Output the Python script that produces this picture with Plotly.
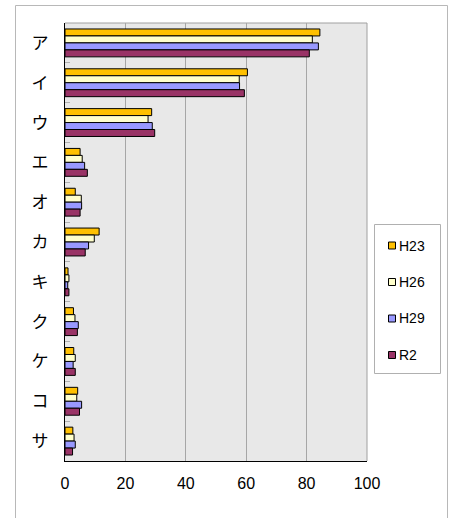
import plotly.graph_objects as go

categories = ["ア", "イ", "ウ", "エ", "オ", "カ", "キ", "ク", "ケ", "コ", "サ"]
series_names = ["H23", "H26", "H29", "R2"]
h23 = [84.4, 60.4, 28.7, 5.0, 3.4, 11.3, 1.0, 2.8, 2.9, 4.2, 2.6]
h26 = [81.9, 57.7, 27.5, 5.7, 5.4, 9.7, 1.3, 3.3, 3.4, 3.9, 3.0]
h29 = [83.9, 57.8, 28.9, 6.5, 5.5, 7.8, 0.9, 4.4, 2.7, 5.5, 3.4]
r2 = [80.9, 59.4, 29.7, 7.4, 5.0, 6.7, 1.3, 4.1, 3.4, 4.8, 2.5]
x_ticks = [0, 20, 40, 60, 80, 100]

colors = ["#FFC000", "#FFFFCC", "#9999FF", "#993366"]
values = [h23, h26, h29, r2]

fig = go.Figure()
for name, vals, col in zip(series_names, values, colors):
    fig.add_trace(go.Bar(
        y=categories, x=vals, name=name, orientation="h",
        marker=dict(color=col, line=dict(color="black", width=1)),
        showlegend=False,
    ))

W, H = 449, 518
# plot area in screen pixels: x 65..367, y 23..461
L, T = 65, 23
R = W - 367
B = H - 461
pw, ph = W - L - R, H - T - B

def px_x(x):
    return (x - L) / pw

def px_y(y):
    return (H - B - y) / ph

def hline(x0, x1, y, color):
    return dict(type="line", xref="paper", yref="paper", x0=px_x(x0), x1=px_x(x1),
                y0=px_y(y), y1=px_y(y), line=dict(color=color, width=1), layer="above")

def vline(x, y0, y1, color):
    return dict(type="line", xref="paper", yref="paper", x0=px_x(x), x1=px_x(x),
                y0=px_y(y0), y1=px_y(y1), line=dict(color=color, width=1), layer="above")

BORDER = "#B8B8B8"
shapes = [
    dict(type="line", xref="paper", yref="paper", x0=0, x1=1, y0=1, y1=1,
         line=dict(color="#A0A0A0", width=1), layer="below"),
    dict(type="line", xref="paper", yref="paper", x0=1, x1=1, y0=0, y1=1,
         line=dict(color="#A0A0A0", width=1), layer="below"),
    # outer chart border
    hline(15.5, 447.5, 5.5, BORDER),
    vline(15.5, 5.5, 520, BORDER),
    vline(447.5, 5.5, 520, BORDER),
    # legend box
    dict(type="rect", xref="paper", yref="paper",
         x0=px_x(374.5), x1=px_x(440.5), y0=px_y(373.5), y1=px_y(224.5),
         line=dict(color="#B0B0B0", width=1), fillcolor="white", layer="below"),
]
annotations = []
leg_y = [245.5, 282, 318.5, 355]
for name, col, cy in zip(series_names, colors, leg_y):
    shapes.append(dict(type="rect", xref="paper", yref="paper",
                       x0=px_x(388.5), x1=px_x(395.5), y0=px_y(cy + 3.5), y1=px_y(cy - 3.5),
                       line=dict(color="black", width=1), fillcolor=col, layer="above"))
    annotations.append(dict(xref="paper", yref="paper", x=px_x(397), y=px_y(cy),
                            xanchor="left", yanchor="middle", text=name, showarrow=False,
                            font=dict(size=14, family="Liberation Sans, Arial", color="black")))

fig.update_layout(
    width=W, height=H,
    margin=dict(l=L, r=R, t=T, b=B, pad=0, autoexpand=False),
    paper_bgcolor="white",
    plot_bgcolor="#E8E8E8",
    barmode="group", bargap=0.3, bargroupgap=0,
    font=dict(family="Liberation Sans, Arial, sans-serif", color="black"),
    xaxis=dict(
        range=[0, 100], tickvals=x_ticks, showgrid=True, gridcolor="#A6A6A6",
        gridwidth=1, zeroline=False, showline=True, linecolor="black", linewidth=1,
        ticks="", tickfont=dict(size=16, family="Liberation Sans, Arial"),
        ticklabelstandoff=8, fixedrange=True,
    ),
    yaxis=dict(
        autorange="reversed", showline=True, linecolor="black", linewidth=1,
        ticks="inside", tickson="boundaries", ticklen=5, tickcolor="#B0B0B0",
        tickfont=dict(size=17, family="Noto Sans CJK JP"),
        ticklabelstandoff=12, showgrid=False, fixedrange=True,
    ),
    showlegend=False,
    shapes=shapes,
    annotations=annotations,
)

fig.write_html(
    "out.html",
    config={"displayModeBar": False},
    post_script="document.body.style.margin='0';document.body.style.overflow='hidden';",
)
